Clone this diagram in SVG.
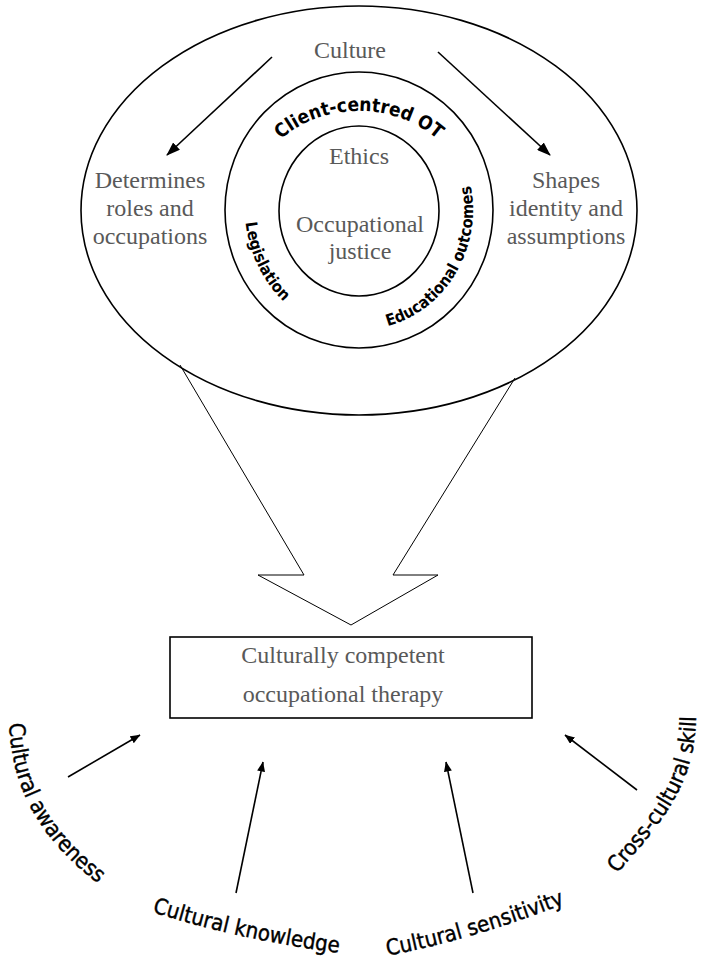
<svg xmlns="http://www.w3.org/2000/svg" width="703" height="964" viewBox="0 0 703 964">
<style>
.ring{fill:none;stroke:#000;stroke-width:1.6}
.thin{fill:none;stroke:#000;stroke-width:1}
.serif{font-family:"Liberation Serif","Times New Roman",serif;font-size:24px;fill:#595959;text-anchor:middle}
.bold{font-family:"DejaVu Sans Condensed","DejaVu Sans",Verdana,sans-serif;font-weight:bold;fill:#000;text-anchor:middle}
.lbl{font-family:"DejaVu Sans Condensed","DejaVu Sans",Verdana,sans-serif;font-size:22px;fill:#000;stroke:#000;stroke-width:0.4;text-anchor:middle}
.conn{stroke:#000;stroke-width:1.6;fill:none}
</style>
<defs>
<marker id="ahBig" viewBox="0 0 14 10" refX="13" refY="5" markerWidth="14" markerHeight="10" markerUnits="userSpaceOnUse" orient="auto"><path d="M0,0 L14,5 L0,10 z" fill="#000"/></marker>
<marker id="ahSmall" viewBox="0 0 10 8" refX="9.5" refY="4" markerWidth="10" markerHeight="8" markerUnits="userSpaceOnUse" orient="auto"><path d="M0,0 L10,4 L0,8 z" fill="#000"/></marker>
<path id="pClient" d="M247,210 A112 99 0 0 1 471,210"/>
<path id="pLegis" d="M245.1,215.6 A114 125 0 0 0 288.8,306.3"/>
<path id="pEdu" d="M378.8,328.2 A114 120 0 0 0 468.6,176.9"/>
<path id="pAware" d="M9,716 C10,790 40,840 104,888"/>
<path id="pKnow" d="M152,912 Q240,940 339,953"/>
<path id="pSens" d="M391,955 Q470,940 562,905"/>
<path id="pCross" d="M614,877 C660,825 697,785 696,712"/>
</defs>

<g id="big-arrow">
<polyline class="thin" points="180,365 304,575 258,575 351,625 438,575 393,575 515,378"/>
</g>

<g id="culture">
<ellipse class="ring" cx="359" cy="210.5" rx="278" ry="204.5"/>
<text class="serif" x="350" y="58">Culture</text>
</g>

<g id="determines">
<text class="serif" x="150" y="188">Determines</text>
<text class="serif" x="150" y="216">roles and</text>
<text class="serif" x="150" y="244">occupations</text>
</g>

<g id="shapes">
<text class="serif" x="566" y="188">Shapes</text>
<text class="serif" x="566" y="216">identity and</text>
<text class="serif" x="566" y="244">assumptions</text>
</g>

<g id="client-centred">
<ellipse class="ring" cx="359" cy="210" rx="134" ry="138"/>
<text class="bold" font-size="19"><textPath href="#pClient" startOffset="50%">Client-centred OT</textPath></text>
<text class="bold" font-size="16"><textPath href="#pLegis" startOffset="50%">Legislation</textPath></text>
<text class="bold" font-size="16"><textPath href="#pEdu" startOffset="50%">Educational outcomes</textPath></text>
</g>

<g id="ethics">
<ellipse class="ring" cx="359" cy="211" rx="80" ry="85"/>
<text class="serif" x="359" y="164">Ethics</text>
<text class="serif" x="360" y="232">Occupational</text>
<text class="serif" x="360" y="259">justice</text>
</g>

<g id="competent-ot">
<rect x="170" y="637" width="362" height="81" fill="none" stroke="#000" stroke-width="1.6"/>
<text class="serif" x="343" y="663">Culturally competent</text>
<text class="serif" x="343" y="702">occupational therapy</text>
</g>

<g id="awareness"><text class="lbl"><textPath href="#pAware" startOffset="50%">Cultural awareness</textPath></text></g>
<g id="knowledge"><text class="lbl"><textPath href="#pKnow" startOffset="50%">Cultural knowledge</textPath></text></g>
<g id="sensitivity"><text class="lbl" font-size="21"><textPath href="#pSens" startOffset="50%">Cultural sensitivity</textPath></text></g>
<g id="skill"><text class="lbl"><textPath href="#pCross" startOffset="50%">Cross-cultural skill</textPath></text></g>

<g id="connectors">
<line class="conn" x1="272" y1="57" x2="167" y2="155" marker-end="url(#ahBig)"/>
<line class="conn" x1="438" y1="52" x2="550" y2="155" marker-end="url(#ahBig)"/>
<line class="conn" x1="68" y1="777" x2="140" y2="735" marker-end="url(#ahSmall)"/>
<line class="conn" x1="236" y1="893" x2="263" y2="762" marker-end="url(#ahSmall)"/>
<line class="conn" x1="473" y1="893" x2="446" y2="762" marker-end="url(#ahSmall)"/>
<line class="conn" x1="637" y1="790" x2="565" y2="735" marker-end="url(#ahSmall)"/>
</g>
</svg>
